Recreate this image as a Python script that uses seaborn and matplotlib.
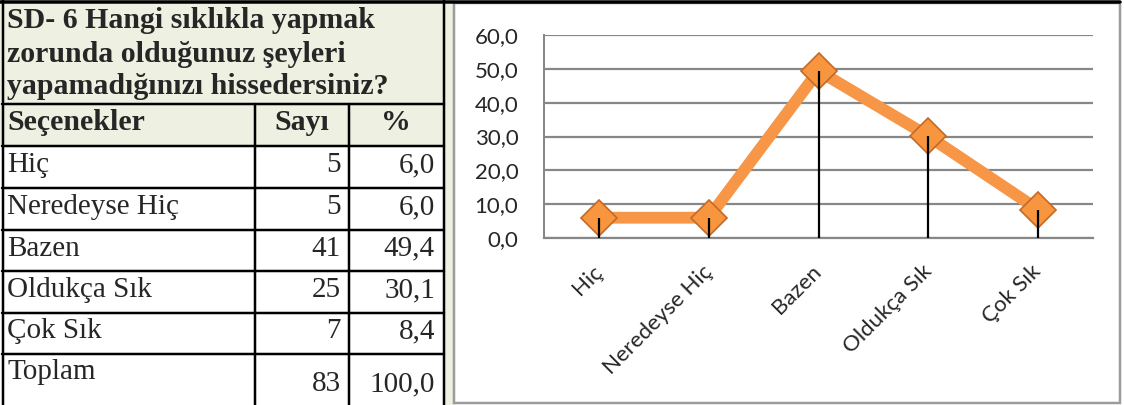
import matplotlib.pyplot as plt
import pandas as pd
import seaborn as sns
from matplotlib.patches import Rectangle

# data
title_lines = ['SD- 6 Hangi sıklıkla yapmak',
               'zorunda olduğunuz şeyleri',
               'yapamadığınızı hissedersiniz?']
header = ['Seçenekler', 'Sayı', '%']
categories = ['Hiç', 'Neredeyse Hiç', 'Bazen', 'Oldukça Sık', 'Çok Sık']
counts = [5, 5, 41, 25, 7]
percents = [6.0, 6.0, 49.4, 30.1, 8.4]
total_label = 'Toplam'
total_count = 83
total_pct = 100.0
y_ticks = [0, 10, 20, 30, 40, 50, 60]


def tr(v):
    return f'{v:.1f}'.replace('.', ',')


sns.set_style('white')
plt.rcParams['font.family'] = ['Liberation Serif', 'DejaVu Sans']

W, H = 1124, 405
fig = plt.figure(figsize=(W / 100, H / 100), dpi=100)

# pixel canvas for the table and panel frame
bg = fig.add_axes([0, 0, 1, 1])
bg.set_xlim(0, W)
bg.set_ylim(H, 0)
bg.axis('off')

green = '#EEF0E1'
px = 0.72  # points per pixel
bg.add_patch(Rectangle((0, 0), 455, 146, color=green, lw=0))
bg.add_patch(Rectangle((444, 0), 11, H, color=green, lw=0))
bg.add_patch(Rectangle((454, 3), 666, 400, fc='white', ec='#9C9C9C', lw=2.5 * px))

row_edges = [104, 146, 188, 230, 271, 313, 354]
for y in row_edges:
    bg.plot([2, 444], [y, y], color='black', lw=2.5 * px)
bg.plot([0, 1120], [2, 2], color='black', lw=3.5 * px)
bg.plot([3, 3], [0, H], color='black', lw=2.5 * px)
bg.plot([444, 444], [0, H], color='black', lw=2.5 * px)
for x in [255, 349]:
    bg.plot([x, x], [104, H], color='black', lw=2.5 * px)

fs_title = 21.5
fs = 21
for i, line in enumerate(title_lines):
    bg.text(7, 21 + i * 33, line, fontsize=fs_title, fontweight='bold',
            ha='left', va='center')

bg.text(7, 123, header[0], fontsize=fs_title, fontweight='bold', ha='left', va='center')
bg.text(302, 123, header[1], fontsize=fs_title, fontweight='bold', ha='center', va='center')
bg.text(396, 123, header[2], fontsize=fs_title, fontweight='bold', ha='center', va='center')

for i, (cat, n, p) in enumerate(zip(categories, counts, percents)):
    yc = (row_edges[i + 1] + row_edges[i + 2]) / 2 - 2 if i + 2 < len(row_edges) \
        else (row_edges[-1] + 313) / 2 + 39
    bg.text(7, yc, cat, fontsize=fs, ha='left', va='center')
    bg.text(341, yc, str(n), fontsize=fs, ha='right', va='center')
    bg.text(435, yc, tr(p), fontsize=fs, ha='right', va='center')

bg.text(7, 372, total_label, fontsize=fs, ha='left', va='center')
bg.text(341, 384, str(total_count), fontsize=fs, ha='right', va='center')
bg.text(435, 384, tr(total_pct), fontsize=fs, ha='right', va='center')

# chart
ax = fig.add_axes([544 / W, (H - 238) / H, 549 / W, 203 / H])
ax.set_facecolor('none')
df = pd.DataFrame({'Seçenek': categories, 'Yüzde': percents})
sns.lineplot(data=df, x='Seçenek', y='Yüzde', ax=ax, sort=False,
             color='#F79646', lw=8.5, marker='D', markersize=18.5,
             markerfacecolor='#F7963F', markeredgecolor='#C46A24',
             markeredgewidth=1.2, zorder=3, clip_on=False)
ax.vlines(range(len(categories)), 0, percents, color='black', lw=1.6, zorder=5)

ax.set_xlim(-0.5, len(categories) - 0.5)
ax.set_ylim(0, 60)
ax.set_yticks(y_ticks)
ax.set_yticklabels([tr(v) for v in y_ticks], family='Lato')
ax.yaxis.grid(True, color='#878787', lw=2.2 * px)
ax.set_axisbelow(True)
for s in ['top', 'right']:
    ax.spines[s].set_visible(False)
ax.spines['left'].set_color('#878787')
ax.spines['left'].set_linewidth(2 * px)
ax.spines['bottom'].set_color('#878787')
ax.spines['bottom'].set_linewidth(2.2 * px)
ax.tick_params(axis='y', length=6.5, width=2 * px, color='#878787',
               labelsize=16, pad=12, labelcolor='#262626')
ax.set_xticks(range(len(categories)))
ax.set_xticklabels(categories, rotation=45, ha='right', va='center',
                   rotation_mode='anchor', family='Lato')
ax.tick_params(axis='x', length=0, labelsize=16, pad=22, labelcolor='#262626')
ax.set_xlabel('')
ax.set_ylabel('')

fig.savefig('out.png', dpi=100)
